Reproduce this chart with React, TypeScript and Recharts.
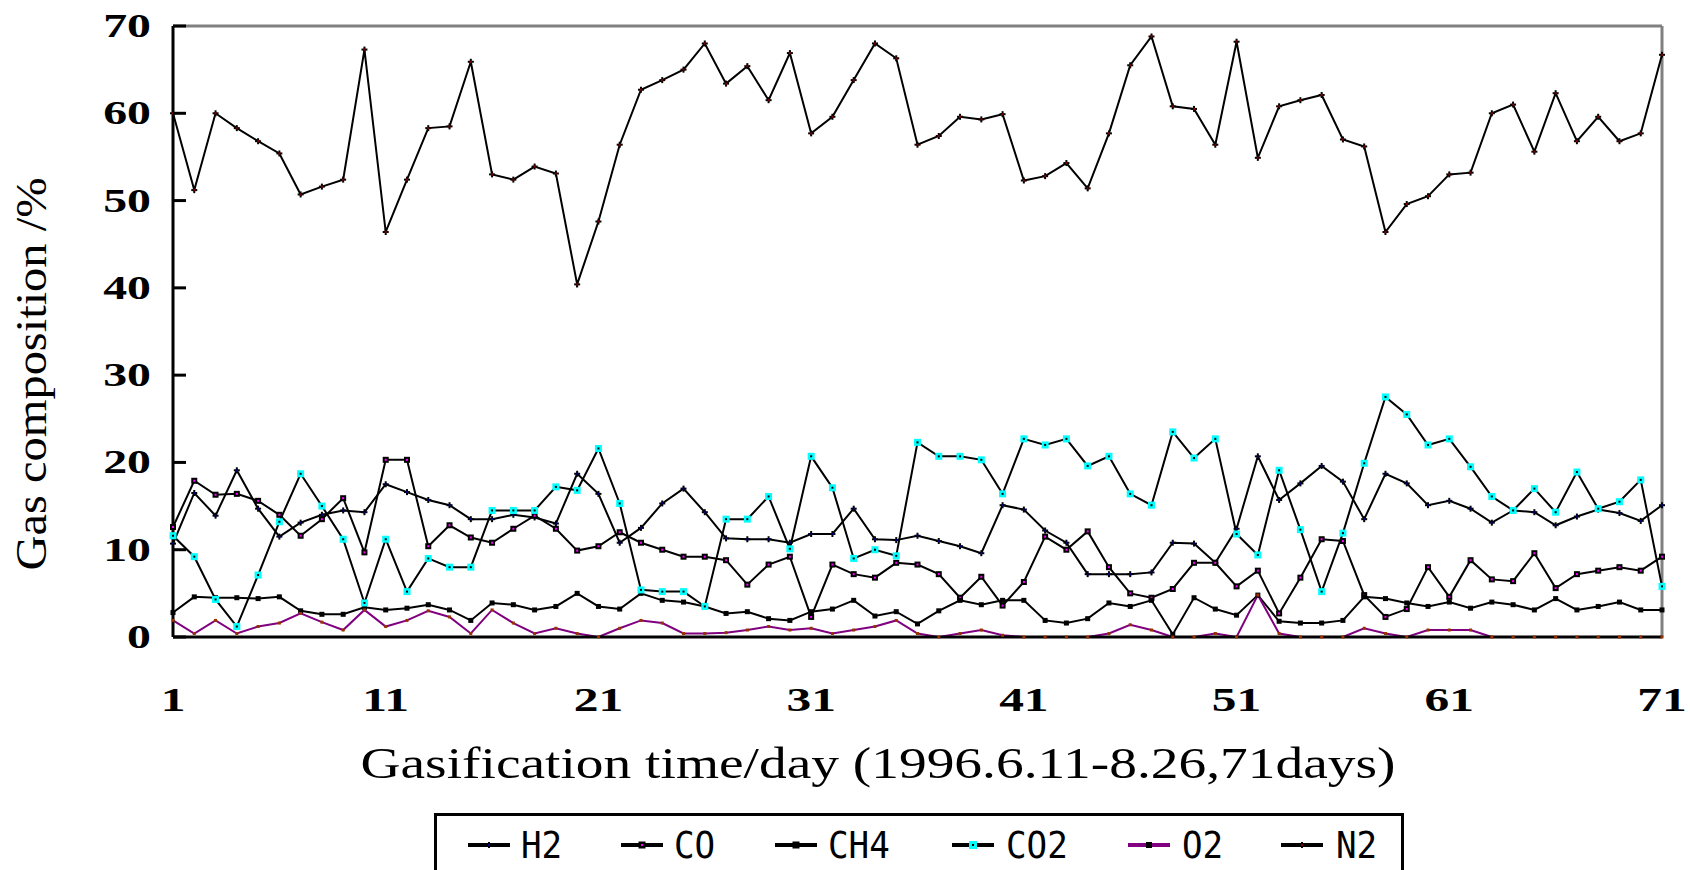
import { LineChart, Line, XAxis, YAxis, ReferenceLine, Label } from 'recharts';

// gas composition, %, day 1..71
const days = Array.from({ length: 71 }, (_, i) => i + 1);
const xTicks = [1, 11, 21, 31, 41, 51, 61, 71];
const yTicks = [0, 10, 20, 30, 40, 50, 60, 70];

const h2 = [10.7, 16.5, 13.9, 19.1, 14.7, 11.5, 13.1, 14.0, 14.5, 14.3,
  17.5, 16.6, 15.7, 15.1, 13.5, 13.5, 14.0, 13.7, 13.0, 18.7,
  16.4, 10.8, 12.5, 15.3, 17.0, 14.3, 11.3, 11.2, 11.2, 10.8,
  11.8, 11.8, 14.7, 11.2, 11.1, 11.6, 11.0, 10.4, 9.6, 15.1,
  14.6, 12.2, 10.8, 7.2, 7.2, 7.2, 7.4, 10.8, 10.7, 8.5,
  12.4, 20.7, 15.7, 17.6, 19.6, 17.8, 13.5, 18.7, 17.6, 15.1,
  15.6, 14.7, 13.1, 14.5, 14.3, 12.8, 13.8, 14.6, 14.2, 13.3, 15.1];

const co = [12.6, 17.9, 16.3, 16.4, 15.6, 14.0, 11.6, 13.5, 15.9, 9.7,
  20.3, 20.3, 10.4, 12.8, 11.4, 10.8, 12.4, 13.9, 12.4, 9.9,
  10.4, 12.0, 10.8, 10.0, 9.2, 9.2, 8.8, 6.0, 8.3, 9.2,
  2.3, 8.3, 7.2, 6.8, 8.5, 8.3, 7.2, 4.5, 6.9, 3.6,
  6.3, 11.5, 10.0, 12.1, 8.0, 5.0, 4.5, 5.5, 8.5, 8.5,
  5.8, 7.6, 2.7, 6.8, 11.2, 11.0, 4.8, 2.3, 3.2, 8.0,
  4.6, 8.8, 6.6, 6.4, 9.6, 5.6, 7.2, 7.6, 8.0, 7.6, 9.2];

const ch4 = [2.8, 4.6, 4.5, 4.5, 4.4, 4.6, 3.0, 2.6, 2.6, 3.4,
  3.1, 3.3, 3.7, 3.1, 1.9, 3.9, 3.7, 3.1, 3.5, 5.0,
  3.5, 3.2, 5.0, 4.2, 4.0, 3.5, 2.7, 2.9, 2.1, 1.9,
  2.9, 3.2, 4.2, 2.4, 2.9, 1.5, 3.0, 4.2, 3.7, 4.2,
  4.2, 1.9, 1.6, 2.1, 3.9, 3.5, 4.2, 0.3, 4.5, 3.2,
  2.5, 4.8, 1.8, 1.6, 1.6, 1.9, 4.6, 4.4, 3.9, 3.5,
  4.0, 3.3, 4.0, 3.7, 3.1, 4.4, 3.1, 3.5, 4.0, 3.1, 3.1];

const co2 = [11.6, 9.2, 4.3, 1.2, 7.1, 13.2, 18.7, 15.0, 11.2, 3.9,
  11.2, 5.2, 9.0, 8.0, 8.0, 14.5, 14.5, 14.5, 17.2, 16.8,
  21.6, 15.3, 5.4, 5.2, 5.2, 3.5, 13.5, 13.5, 16.1, 10.1,
  20.7, 17.1, 9.0, 10.0, 9.3, 22.3, 20.7, 20.7, 20.3, 16.4,
  22.7, 22.0, 22.7, 19.6, 20.7, 16.4, 15.1, 23.5, 20.5, 22.7,
  11.8, 9.4, 19.1, 12.3, 5.2, 11.9, 19.9, 27.5, 25.5, 22.0,
  22.7, 19.5, 16.1, 14.5, 17.0, 14.3, 18.9, 14.7, 15.5, 18.0, 5.8];

const o2 = [1.9, 0.4, 1.9, 0.4, 1.2, 1.6, 2.7, 1.7, 0.8, 3.1,
  1.2, 1.9, 3.0, 2.3, 0.4, 3.1, 1.6, 0.4, 1.0, 0.4,
  0.0, 1.0, 1.9, 1.6, 0.4, 0.4, 0.5, 0.8, 1.2, 0.8,
  1.0, 0.4, 0.8, 1.2, 1.9, 0.4, 0.0, 0.4, 0.8, 0.2,
  0.0, 0.0, 0.0, 0.0, 0.4, 1.4, 0.8, 0.0, 0.0, 0.4,
  0.0, 4.8, 0.4, 0.0, 0.0, 0.0, 1.0, 0.4, 0.0, 0.8,
  0.8, 0.8, 0.0, 0.0, 0.0, 0.0, 0.0, 0.0, 0.0, 0.0, 0.0];

const n2 = [60.0, 51.2, 60.0, 58.3, 56.8, 55.4, 50.7, 51.6, 52.4, 67.3,
  46.4, 52.4, 58.3, 58.5, 65.9, 53.0, 52.4, 53.9, 53.1, 40.4,
  47.6, 56.4, 62.7, 63.8, 65.0, 68.0, 63.4, 65.4, 61.5, 66.9,
  57.7, 59.6, 63.8, 68.0, 66.3, 56.4, 57.4, 59.6, 59.3, 59.9,
  52.3, 52.8, 54.3, 51.4, 57.7, 65.5, 68.8, 60.8, 60.5, 56.4,
  68.2, 54.9, 60.8, 61.5, 62.1, 57.0, 56.2, 46.4, 49.6, 50.5,
  53.0, 53.2, 60.0, 61.0, 55.6, 62.3, 56.8, 59.6, 56.8, 57.7, 66.7];

const data = days.map((d, i) => ({
  day: d, H2: h2[i], CO: co[i], CH4: ch4[i], CO2: co2[i], O2: o2[i], N2: n2[i],
}));

// markers
const Cross = ({ cx, cy, c }: any) => (
  <g>
    <line x1={cx - 3} x2={cx + 3} y1={cy} y2={cy} stroke="#000" strokeWidth={2} />
    <line x1={cx} x2={cx} y1={cy - 3} y2={cy + 3} stroke="#000" strokeWidth={2} />
    <rect x={cx - 1} y={cy - 1} width={2} height={2} fill={c} />
  </g>
);
const Box = ({ cx, cy, outer, inner, s }: any) => (
  <g>
    <rect x={cx - s / 2} y={cy - s / 2} width={s} height={s} fill={outer} />
    {inner && <rect x={cx - 1} y={cy - 1} width={2} height={2} fill={inner} />}
  </g>
);

const dotH2 = (p: any) => <Cross key={p.index} cx={p.cx} cy={p.cy} c="#000080" />;
const dotN2 = (p: any) => <Cross key={p.index} cx={p.cx} cy={p.cy} c="#800000" />;
const dotCO = (p: any) => <Box key={p.index} cx={p.cx} cy={p.cy} s={6} outer="#000" inner="#ff00ff" />;
const dotCH4 = (p: any) => <Box key={p.index} cx={p.cx} cy={p.cy} s={5} outer="#000" />;
const dotCO2 = (p: any) => <Box key={p.index} cx={p.cx} cy={p.cy} s={7} outer="#00ffff" inner="#000" />;
const dotO2 = (p: any) => <Box key={p.index} cx={p.cx} cy={p.cy} s={3} outer="#993300" />;

const tickFont = '"Liberation Serif", "Times New Roman", serif';

const YTick = (p: any) => (
  <g>
    <line x1={173} x2={186} y1={p.y} y2={p.y} stroke="#000" strokeWidth={3} />
    <text transform={`translate(151 ${p.y + 11}) scale(1.45 1)`} textAnchor="end"
      fontFamily={tickFont} fontWeight="bold" fontSize={33} fill="#000">
      {p.payload.value}
    </text>
  </g>
);

const XTick = (p: any) => (
  <text transform={`translate(${p.x} 711) scale(1.5 1)`} textAnchor="middle"
    fontFamily={tickFont} fontWeight="bold" fontSize={33} fill="#000">
    {p.payload.value}
  </text>
);

const legendItems = [
  { name: 'H2', x: 465, tx: 518, mark: 'h2' },
  { name: 'CO', x: 618, tx: 671, mark: 'co' },
  { name: 'CH4', x: 772, tx: 825, mark: 'ch4' },
  { name: 'CO2', x: 949, tx: 1003, mark: 'co2' },
  { name: 'O2', x: 1125, tx: 1179, mark: 'o2' },
  { name: 'N2', x: 1278, tx: 1333, mark: 'n2' },
];

const LegendMark = ({ mark }: { mark: string }) => {
  const stroke = mark === 'o2' ? '#800080' : '#000';
  return (
    <svg width={42} height={20} style={{ position: 'absolute', left: 0, top: 0 }}>
      <line x1={0} x2={42} y1={10} y2={10} stroke={stroke} strokeWidth={4} />
      {mark === 'h2' && <Cross cx={21} cy={10} c="#000080" />}
      {mark === 'n2' && <Cross cx={21} cy={10} c="#800000" />}
      {mark === 'co' && <Box cx={21} cy={10} s={7} outer="#000" inner="#ff00ff" />}
      {mark === 'ch4' && <Box cx={21} cy={10} s={7} outer="#000" />}
      {mark === 'co2' && <Box cx={21} cy={10} s={8} outer="#00ffff" inner="#000" />}
      {mark === 'o2' && <Box cx={21} cy={10} s={6} outer="#000" />}
    </svg>
  );
};

export default function App() {
  return (
    <div style={{ position: 'absolute', left: 0, top: 0, width: 1690, height: 870, overflow: 'hidden', background: '#fff' }}>
      <LineChart width={1690} height={870} data={data} margin={{ top: 26, right: 28, bottom: 0, left: 0 }}>
        <ReferenceLine y={70} stroke="#808080" strokeWidth={3} />
        <ReferenceLine x={71} stroke="#808080" strokeWidth={3} />
        <XAxis
          dataKey="day" type="number" domain={[1, 71]} ticks={xTicks} interval={0}
          height={233} tickLine={false} axisLine={{ stroke: '#000', strokeWidth: 3 }} tick={XTick}
        >
          <Label
            content={() => (
              <text x={878} y={778} textAnchor="middle" fontFamily={tickFont} fontSize={44}
                textLength={1035} lengthAdjust="spacingAndGlyphs" fill="#000">
                Gasification time/day (1996.6.11-8.26,71days)
              </text>
            )}
          />
        </XAxis>
        <YAxis
          domain={[0, 70]} ticks={yTicks} interval={0} width={173}
          tickLine={false} axisLine={{ stroke: '#000', strokeWidth: 3 }} tick={YTick}
        >
          <Label
            content={() => (
              <text x={0} y={0} transform="translate(46 374) rotate(-90)" textAnchor="middle"
                fontFamily={tickFont} fontSize={44} textLength={393} lengthAdjust="spacingAndGlyphs" fill="#000">
                Gas composition /%
              </text>
            )}
          />
        </YAxis>
        <Line dataKey="H2" stroke="#000" strokeWidth={2} dot={dotH2} isAnimationActive={false} />
        <Line dataKey="CO" stroke="#000" strokeWidth={2} dot={dotCO} isAnimationActive={false} />
        <Line dataKey="CH4" stroke="#000" strokeWidth={2} dot={dotCH4} isAnimationActive={false} />
        <Line dataKey="CO2" stroke="#000" strokeWidth={2} dot={dotCO2} isAnimationActive={false} />
        <Line dataKey="O2" stroke="#800080" strokeWidth={2} dot={dotO2} isAnimationActive={false} />
        <Line dataKey="N2" stroke="#000" strokeWidth={2} dot={dotN2} isAnimationActive={false} />
      </LineChart>
      <div style={{ position: 'absolute', left: 434, top: 813, width: 970, height: 80, border: '3px solid #000', boxSizing: 'border-box' }}>
        {legendItems.map((it) => (
          <div key={it.name}>
            <div style={{ position: 'absolute', left: it.x - 434, top: 19, width: 42, height: 20 }}>
              <LegendMark mark={it.mark} />
            </div>
            <div style={{ position: 'absolute', left: it.tx - 434, top: 8, fontFamily: '"DejaVu Sans Mono", monospace', fontSize: 38, lineHeight: '42px', color: '#000', transform: 'scaleX(0.9)', transformOrigin: 'left center' }}>
              {it.name}
            </div>
          </div>
        ))}
      </div>
    </div>
  );
}
